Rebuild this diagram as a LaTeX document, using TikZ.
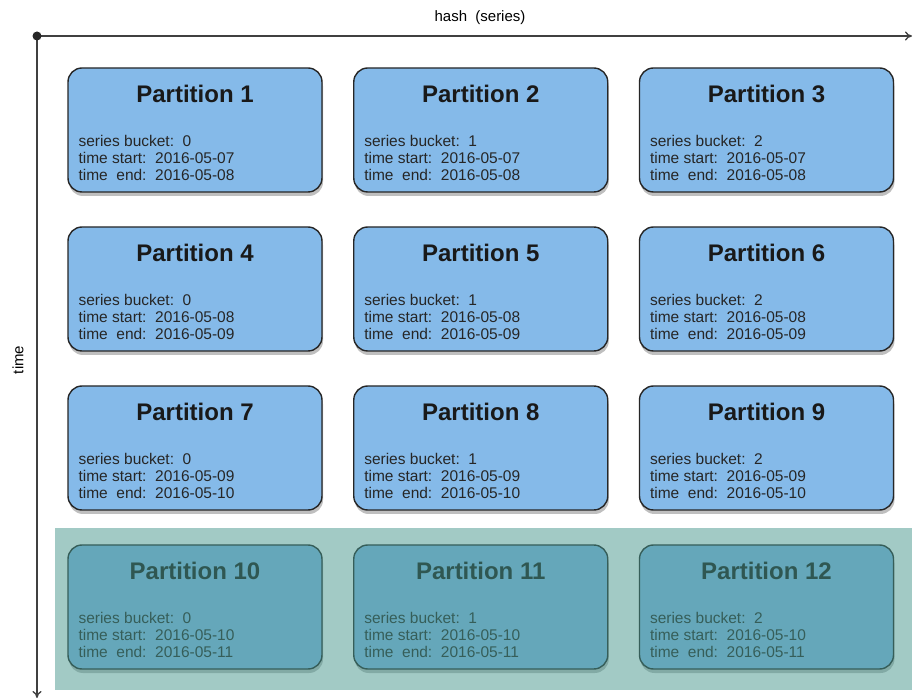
\documentclass[tikz,border=0pt]{standalone}
\usepackage{fontspec}
\setmainfont{Liberation Sans}
\usetikzlibrary{shadows,arrows.meta,positioning}
\definecolor{partblue}{RGB}{133,186,233}
\definecolor{oldteal}{RGB}{70,150,140}
\tikzset{
  partbox/.style={draw=black!85, line width=1.4pt, fill=partblue, rounded corners=14pt,
    minimum width=254pt, minimum height=124pt,
    drop shadow={opacity=0.5, shadow xshift=1pt, shadow yshift=-4pt}},
  parttitle/.style={font=\fontsize{24}{27}\selectfont\bfseries, text=black!90},
  partinfo/.style={font=\fontsize{15.5}{17}\selectfont, align=left, inner sep=0pt,
    anchor=north west, text=black!85},
  axis/.style={line width=1.3pt, draw=black!75, -{To[length=7pt,width=9pt]}},
}
\begin{document}
\begin{tikzpicture}[x=1pt, y=-1pt]
    \useasboundingbox (0,0) rectangle (914,700);
    % partitions
    \foreach \row/\start/\finish in {0/07/08,1/08/09,2/09/10,3/10/11} {
      \foreach \col in {0,1,2} {
        \pgfmathtruncatemacro{\num}{3*\row+\col+1}
        \node[partbox] (p\num) at (195+285.75*\col, 130+159*\row) {};
        \node[parttitle] (t\num) at ([yshift=-27pt]p\num.north) {Partition \num};
        \node[partinfo] (d\num) at ([xshift=11pt,yshift=-68pt]p\num.north west)
          {series bucket:\ \ \col\\time start:\ \ 2016-05-\start\\time\ \ end:\ \ 2016-05-\finish};
      }
    }
    \fill[oldteal, opacity=0.5] (55,528) rectangle (912,690);
    % axes
    \coordinate (origin) at (37,36);
    \coordinate (hashend) at (912,36);
    \coordinate (timeend) at (37,698);
    \draw[axis] (origin) -- (hashend);
    \draw[axis] (origin) -- (timeend);
    \fill[black!85] (origin) circle (4.5pt);
    \node[font=\fontsize{15}{17}\selectfont] (hashlabel) at (480,18) {hash\ \ (series)};
    \node[font=\fontsize{15}{17}\selectfont, rotate=90] (timelabel) at (18,360) {time};
\end{tikzpicture}
\end{document}
